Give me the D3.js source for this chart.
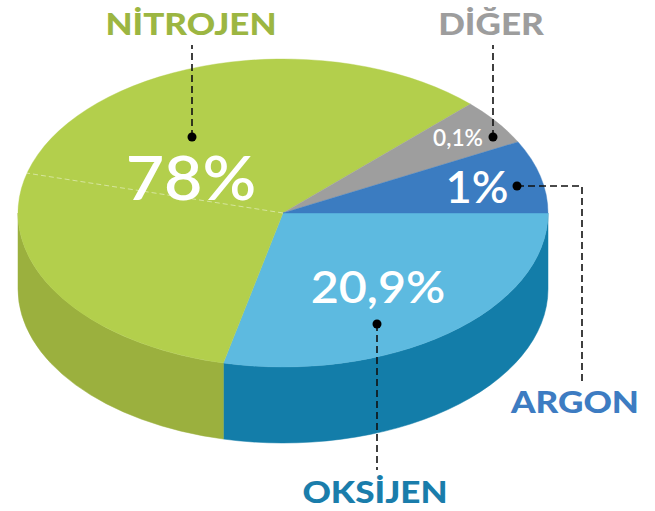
<!DOCTYPE html>
<html>
<head>
<meta charset="utf-8">
<script src="https://cdn.jsdelivr.net/npm/d3@7"></script>
<style>
  html, body { margin: 0; padding: 0; background: #fff; }
  svg { display: block; }
</style>
</head>
<body>
<svg id="chart"></svg>
<script>
// gaz isimleri ve yuzdeler
const names = ["OKSİJEN", "NİTROJEN", "DİĞER", "ARGON"]
const values = [20.9, 78, 0.1, 1]
const valueLabels = ["20,9%", "78%", "0,1%", "1%"]
// dilimlerin resimde kapladigi aci (derece) - grafik orantili cizilmemis
const drawnAngles = [103, 212, 17.5, 27.5]

const topColors = ["#5dbae0", "#b3cf4c", "#9e9e9e", "#3b7cc1"]
const sideColors = ["#137da9", "#9bb03e", "#8a8a8a", "#2f66a0"]
const nameColors = ["#1a7dab", "#9cb642", "#9d9d9d", "#3d7cc2"]

const width = 655, height = 511
const cx = 283, cy = 213, rx = 265, ry = 154, depth = 76

const svg = d3.select("#chart").attr("width", width).attr("height", height)

const pie = d3.pie()
    .sort(null)
    .value((d, i) => drawnAngles[i])
    .startAngle(Math.PI / 2)
    .endAngle(Math.PI / 2 + 2 * Math.PI)

const arcs = pie(values)

// d3 acisi (saat 12'den) -> elips parametresi
function pt(a, dy = 0) {
    const t = a - Math.PI / 2
    return [cx + rx * Math.cos(t), cy + ry * Math.sin(t) + dy]
}

// yan yuzler (sadece on taraf, t 0..pi)
const sides = svg.append("g")
arcs.forEach((d, i) => {
    let a0 = Math.max(d.startAngle, Math.PI / 2)
    let a1 = Math.min(d.endAngle, Math.PI * 1.5)
    if (a1 <= a0) return
    const p0 = pt(a0), p1 = pt(a1), q0 = pt(a0, depth), q1 = pt(a1, depth)
    const path = `M${p0} A${rx},${ry} 0 0 1 ${p1} L${q1} A${rx},${ry} 0 0 0 ${q0} Z`
    sides.append("path")
        .attr("d", path)
        .attr("fill", sideColors[i])
        .attr("stroke", sideColors[i])
        .attr("stroke-width", 0.5)
})

// ust yuz
const arc = d3.arc().innerRadius(0).outerRadius(rx)
svg.append("g")
    .attr("transform", `translate(${cx},${cy}) scale(1,${ry / rx})`)
    .selectAll("path")
    .data(arcs)
    .join("path")
    .attr("d", arc)
    .attr("fill", (d, i) => topColors[i])
    .attr("stroke", (d, i) => topColors[i])
    .attr("stroke-width", 0.5)

// nitrojen icindeki silik kesikli cizgi
const seam = pt((195 + 90) * Math.PI / 180)
svg.append("line")
    .attr("x1", cx).attr("y1", cy)
    .attr("x2", seam[0]).attr("y2", seam[1])
    .attr("stroke", "#ffffff")
    .attr("stroke-opacity", 0.45)
    .attr("stroke-width", 1)
    .attr("stroke-dasharray", "5,3")

// yuzde yazilari [x, y, boyut, yatay olcek]
const pctPos = [[378, 303, 44, 1.1], [191, 200, 62, 1.07], [458, 146, 22, 1.03], [477, 203, 44, 1.03]]
svg.append("g")
    .selectAll("text")
    .data(valueLabels)
    .join("text")
    .attr("transform", (d, i) => `translate(${pctPos[i][0]},${pctPos[i][1]}) scale(${pctPos[i][3]},1)`)
    .attr("font-size", (d, i) => pctPos[i][2])
    .attr("text-anchor", "middle")
    .attr("font-family", "Lato, 'Open Sans', sans-serif")
    .attr("font-weight", 600)
    .attr("fill", "#ffffff")
    .text(d => d)

// isaretci cizgileri: nokta + kesikli yol
const leaders = [
    [[377, 324], [377, 470]],
    [[192, 137], [192, 45]],
    [[493, 137], [493, 45]],
    [[517, 186], [582, 186], [582, 382]]
]
const lg = svg.append("g")
leaders.forEach(l => {
    lg.append("path")
        .attr("d", d3.line()(l))
        .attr("fill", "none")
        .attr("stroke", "#111")
        .attr("stroke-width", 1.6)
        .attr("stroke-dasharray", "7,4")
    lg.append("circle")
        .attr("cx", l[0][0]).attr("cy", l[0][1])
        .attr("r", 4.5)
        .attr("fill", "#000")
})

// gaz isimleri
const namePos = [[375, 503], [191, 35], [491, 35], [575, 413]]
svg.append("g")
    .selectAll("text")
    .data(names)
    .join("text")
    .attr("transform", (d, i) => `translate(${namePos[i][0]},${namePos[i][1]}) scale(1.17,1)`)
    .attr("text-anchor", "middle")
    .attr("font-family", "Lato, 'Open Sans', sans-serif")
    .attr("font-weight", 900)
    .attr("font-size", 30)
    .attr("fill", (d, i) => nameColors[i])
    .text(d => d)
</script>
</body>
</html>
